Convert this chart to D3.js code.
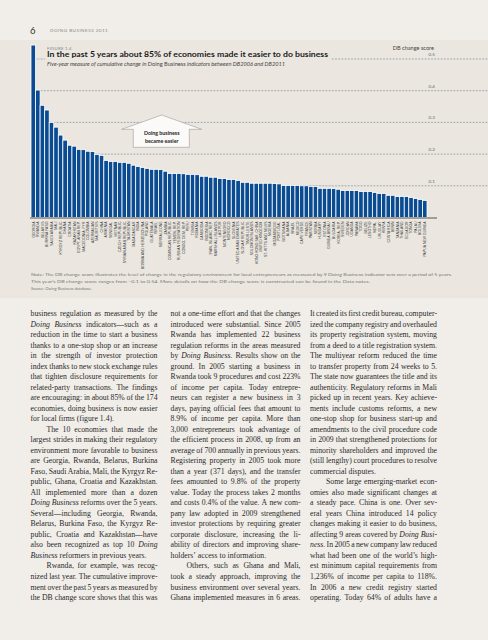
<!DOCTYPE html>
<html><head><meta charset="utf-8">
<script src="https://cdn.jsdelivr.net/npm/d3@7"></script>
<style>body{margin:0;background:#f1eee9;} svg{display:block}</style>
</head><body>
<svg id="c" width="488" height="640"></svg>
<script>
const economies = ["GEORGIA","RWANDA","BELARUS","BURKINA FASO","SAUDI ARABIA","MALI","KYRGYZ REPUBLIC","GHANA","CROATIA","KAZAKHSTAN",
"EGYPT, ARAB REP.","MACEDONIA, FYR","COLOMBIA","AZERBAIJAN","MAURITIUS","CHINA","ARMENIA","SENEGAL","VIETNAM","CZECH REPUBLIC",
"SYRIAN ARAB REPUBLIC","TAJIKISTAN","MADAGASCAR","INDIA","BOSNIA AND HERZEGOVINA","POLAND","GUATEMALA","ISRAEL","SIERRA LEONE","ZAMBIA",
"DOMINICAN REPUBLIC","YEMEN, REP.","RUSSIAN FEDERATION","CONGO, DEM. REP.","PERU","TUNISIA","ROMANIA","CAMBODIA","INDONESIA","IRAN, ISLAMIC REP.",
"MARSHALL ISLANDS","LAO PDR","MONTENEGRO","MOROCCO","SLOVENIA","UNITED ARAB EMIRATES","SLOVAK REPUBLIC","TIMOR-LESTE","SOLOMON ISLANDS","HONG KONG SAR, CHINA",
"UNITED KINGDOM","ST. KITTS AND NEVIS","NIGERIA","MOZAMBIQUE","PORTUGAL","BOTSWANA","ALBANIA","BRAZIL","MEXICO","CAPE VERDE",
"FRANCE","PAKISTAN","SERBIA","HUNGARY","ESTONIA","GUINEA-BISSAU","BULGARIA","KOREA, REP.","SWEDEN","JORDAN",
"UGANDA","PANAMA","TOGO","BELIZE","LESOTHO","NEPAL","URUGUAY","KENYA","COSTA RICA","BENIN",
"TANZANIA","THAILAND","ECUADOR","TONGA","PALAU","BOLIVIA","PAPUA NEW GUINEA"];
const scores = [0.544,0.402,0.354,0.339,0.300,0.285,0.260,0.244,0.228,0.225,
0.215,0.214,0.209,0.208,0.199,0.196,0.180,0.177,0.177,0.174,
0.174,0.171,0.165,0.161,0.158,0.155,0.152,0.152,0.151,0.146,
0.139,0.139,0.139,0.138,0.136,0.136,0.135,0.130,0.130,0.127,
0.127,0.123,0.123,0.120,0.120,0.117,0.111,0.111,0.108,0.108,
0.108,0.108,0.108,0.107,0.106,0.101,0.101,0.101,0.101,0.100,
0.100,0.098,0.098,0.092,0.092,0.092,0.091,0.089,0.085,0.085,
0.085,0.085,0.082,0.082,0.082,0.079,0.076,0.076,0.070,0.070,
0.066,0.066,0.066,0.063,0.060,0.057,0.054];
const tickValues = [0.1,0.2,0.3,0.4,0.5];
const tickLabels = ["0.1","0.2","0.3","0.4","0.5"];

const col1 = [
"business regulation as measured by the",
"~Doing ~Business indicators—such as a",
"reduction in the time to start a business",
"thanks to a one-stop shop or an increase",
"in the strength of investor protection",
"index thanks to new stock exchange rules",
"that tighten disclosure requirements for",
"related-party transactions. The findings",
"are encouraging: in about 85% of the 174",
"economies, doing business is now easier",
"for local firms (figure 1.4).|",
">The 10 economies that made the",
"largest strides in making their regulatory",
"environment more favorable to business",
"are Georgia, Rwanda, Belarus, Burkina",
"Faso, Saudi Arabia, Mali, the Kyrgyz Re-",
"public, Ghana, Croatia and Kazakhstan.",
"All implemented more than a dozen",
"~Doing ~Business reforms over the 5 years.",
"Several—including Georgia, Rwanda,",
"Belarus, Burkina Faso, the Kyrgyz Re-",
"public, Croatia and Kazakhstan—have",
"also been recognized as top 10 ~Doing",
"~Business reformers in previous years.|",
">Rwanda, for example, was recog-",
"nized last year. The cumulative improve-",
"ment over the past 5 years as measured by",
"the DB change score shows that this was"];
const col2 = [
"not a one-time effort and that the changes",
"introduced were substantial. Since 2005",
"Rwanda has implemented 22 business",
"regulation reforms in the areas measured",
"by ~Doing ~Business. Results show on the",
"ground. In 2005 starting a business in",
"Rwanda took 9 procedures and cost 223%",
"of income per capita. Today entrepre-",
"neurs can register a new business in 3",
"days, paying official fees that amount to",
"8.9% of income per capita. More than",
"3,000 entrepreneurs took advantage of",
"the efficient process in 2008, up from an",
"average of 700 annually in previous years.",
"Registering property in 2005 took more",
"than a year (371 days), and the transfer",
"fees amounted to 9.8% of the property",
"value. Today the process takes 2 months",
"and costs 0.4% of the value. A new com-",
"pany law adopted in 2009 strengthened",
"investor protections by requiring greater",
"corporate disclosure, increasing the li-",
"ability of directors and improving share-",
"holders’ access to information.|",
">Others, such as Ghana and Mali,",
"took a steady approach, improving the",
"business environment over several years.",
"Ghana implemented measures in 6 areas."];
const col3 = [
"It created its first credit bureau, computer-",
"ized the company registry and overhauled",
"its property registration system, moving",
"from a deed to a title registration system.",
"The multiyear reform reduced the time",
"to transfer property from 24 weeks to 5.",
"The state now guarantees the title and its",
"authenticity. Regulatory reforms in Mali",
"picked up in recent years. Key achieve-",
"ments include customs reforms, a new",
"one-stop shop for business start-up and",
"amendments to the civil procedure code",
"in 2009 that strengthened protections for",
"minority shareholders and improved the",
"(still lengthy) court procedures to resolve",
"commercial disputes.|",
">Some large emerging-market econ-",
"omies also made significant changes at",
"a steady pace. China is one. Over sev-",
"eral years China introduced 14 policy",
"changes making it easier to do business,",
"affecting 9 areas covered by ~Doing ~Busi-",
"~ness. In 2005 a new company law reduced",
"what had been one of the world’s high-",
"est minimum capital requirements from",
"1,236% of income per capita to 118%.",
"In 2006 a new credit registry started",
"operating. Today 64% of adults have a"];

const svg = d3.select("#c");
const sans = "Lato, 'Open Sans', sans-serif";

// panel background
svg.append("rect").attr("x",0).attr("y",40).attr("width",488).attr("height",258).attr("fill","#ebe7e0");

// header
svg.append("text").attr("x",30).attr("y",33.5).attr("font-family",sans).attr("font-size",9.5).attr("fill","#333").text("6");
svg.append("text").attr("x",50).attr("y",32).attr("font-family",sans).attr("font-size",4.6).attr("letter-spacing",0.45).attr("fill","#888").text("DOING BUSINESS 2011");

const x = d3.scaleBand().domain(economies).range([31, 427]).paddingInner(0);
const y = d3.scaleLinear().domain([0, 0.5]).range([217.5, 59]);

// gridlines
svg.append("g").selectAll("line").data(tickValues).join("line")
  .attr("x1",31).attr("x2",488).attr("y1",d=>y(d)).attr("y2",d=>y(d))
  .attr("stroke","#8e9cab").attr("stroke-width",0.8).attr("stroke-dasharray","2,1.2");
svg.append("g").selectAll("text").data(tickValues).join("text")
  .attr("x",435).attr("y",d=>y(d)-3).attr("text-anchor","end")
  .attr("font-family",sans).attr("font-size",4.6).attr("fill","#666")
  .text((d,i)=>tickLabels[i]);
svg.append("text").attr("x",434).attr("y",49.5).attr("text-anchor","end")
  .attr("font-family",sans).attr("font-size",5.6).attr("fill","#444").text("DB change score");

// title block
svg.append("rect").attr("x",45).attr("y",43).attr("width",286).attr("height",26).attr("fill","#ebe7e0");
svg.append("text").attr("x",47).attr("y",49.5).attr("font-family",sans).attr("font-size",4.4).attr("letter-spacing",0.2).attr("fill","#888").text("FIGURE 1.4");
svg.append("text").attr("x",47).attr("y",57).attr("font-family",sans).attr("font-weight","bold").attr("font-size",7.6).attr("fill","#1a1a1a")
  .attr("textLength",281).attr("lengthAdjust","spacingAndGlyphs")
  .text("In the past 5 years about 85% of economies made it easier to do business");
const sub = svg.append("text").attr("x",47).attr("y",65.5).attr("font-family",sans).attr("font-size",5.6).attr("fill","#444")
  .attr("textLength",238).attr("lengthAdjust","spacingAndGlyphs");
sub.append("tspan").attr("font-style","italic").text("Five-year measure of cumulative change in ");
sub.append("tspan").text("Doing Business");
sub.append("tspan").attr("font-style","italic").text(" indicators between DB2006 and DB2011");

// bars
svg.append("g").selectAll("rect").data(economies).join("rect")
  .attr("x",d=>x(d)).attr("width",x.bandwidth())
  .attr("y",(d,i)=>y(scores[i])).attr("height",(d,i)=>y(0)-y(scores[i]))
  .attr("fill","#0b4b91").attr("stroke","#ffffff").attr("stroke-width",0.8);

// baseline
svg.append("line").attr("x1",30).attr("x2",437).attr("y1",y(0)+0.5).attr("y2",y(0)+0.5)
  .attr("stroke","#555").attr("stroke-width",1.2);

// category labels
svg.append("g").selectAll("text").data(economies).join("text")
  .attr("transform",d=>`translate(${x(d)+x.bandwidth()/2+1.3},${y(0)+4}) rotate(-90)`)
  .attr("text-anchor","end").attr("font-family","'Liberation Sans', Arial, sans-serif")
  .attr("font-size",3.5).attr("fill","#333").text(d=>d);

// annotation arrow
const ax = 161.7, at = 115;
const arrowPts = [[ax,at],[ax+40,at+14.3],[ax+27.6,at+14.3],[ax+27.6,at+32.3],[ax-28.4,at+32.3],[ax-28.4,at+14.3],[ax-40,at+14.3]];
svg.append("polygon").attr("points",arrowPts.map(p=>p.join(",")).join(" "))
  .attr("fill","#fbfaf8").attr("stroke","#9a9a9a").attr("stroke-width",0.6);
svg.append("text").attr("x",ax).attr("y",135.2).attr("text-anchor","middle").attr("font-family",sans).attr("font-weight","bold").attr("font-size",5.3).attr("fill","#222").text("Doing business");
svg.append("text").attr("x",ax).attr("y",142.6).attr("text-anchor","middle").attr("font-family",sans).attr("font-weight","bold").attr("font-size",5.3).attr("fill","#222").text("became easier");

// notes
const notes = [
 "Note: The DB change score illustrates the level of change in the regulatory environment for local entrepreneurs as measured by 9 Doing Business indicator sets over a period of 5 years.",
 "This year’s DB change score ranges from –0.1 to 0.54. More details on how the DB change score is constructed can be found in the Data notes.",
 "Source: Doing Business database."];
const noteW = [421, 339, 61];
notes.forEach((t,i)=>{
  svg.append("text").attr("x",31).attr("y",275.5+i*7).attr("font-family",sans).attr("font-size",4.3).attr("fill","#777")
   .attr("textLength",noteW[i]).attr("lengthAdjust","spacingAndGlyphs").text(t);
});

// body text columns (justified)
const serif = "'Liberation Serif', 'DejaVu Serif', serif";
function drawColumn(lines, x0, width, y0, lh){
  const g = svg.append("g").attr("font-family",serif).attr("font-size",7.75).attr("fill","#2a2a2a");
  lines.forEach((raw,i)=>{
    let s = raw, indent = 0, justify = true;
    if (s.startsWith(">")) { indent = 16; s = s.slice(1); }
    if (s.endsWith("|")) { justify = false; s = s.slice(0,-1); }
    const words = s.split(" ");
    const t = g.append("text").attr("y", y0 + i*lh);
    const spans = words.map(w=>{
      const it = w.startsWith("~");
      return t.append("tspan").attr("font-style", it ? "italic" : null).text(it ? w.slice(1) : w);
    });
    const widths = spans.map(sp=>sp.node().getComputedTextLength());
    const total = d3.sum(widths);
    const avail = width - indent;
    const natGap = 1.94;
    let gap = natGap;
    if (justify && words.length>1) gap = (avail - total)/(words.length-1);
    let cx = x0 + indent;
    spans.forEach((sp,k)=>{ sp.attr("x",cx); cx += widths[k] + gap; });
  });
}
drawColumn(col1, 30.5, 127, 316, 10.52);
drawColumn(col2, 170.5, 130, 316, 10.52);
drawColumn(col3, 310, 127, 316, 10.52);
</script>
</body></html>
